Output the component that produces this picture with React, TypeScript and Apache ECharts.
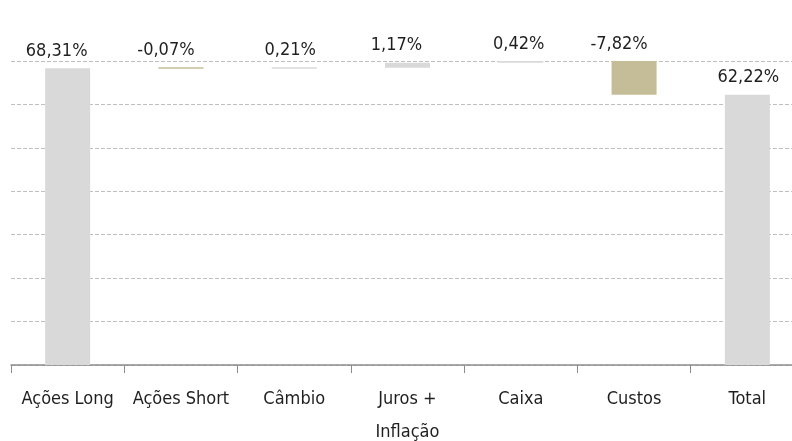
import React, { useEffect, useRef } from "react";
import * as echarts from "echarts";

const categories = ["Ações Long", "Ações Short", "Câmbio", "Juros +\nInflação", "Caixa", "Custos", "Total"];
const deltas = [68.31, -0.07, 0.21, 1.17, 0.42, -7.82, 62.22];
const isTotal = [true, false, false, false, false, false, true];
const yTicks = [0, 10, 20, 30, 40, 50, 60, 70];

// horizontal nudges of the value labels, as placed in the original
const labelShift = [-11, -15, -4, -11, -2, -15, 1];

const GRAY = "#d9d9d9";
const KHAKI = "#c4bd97";
const FONT = "'DejaVu Sans Condensed', 'Liberation Sans Narrow', sans-serif";

function fmt(v: number) {
  return v.toFixed(2).replace(".", ",") + "%";
}

export default function App() {
  const ref = useRef<HTMLDivElement>(null);
  useEffect(() => {
    if (!ref.current) return;
    const chart = echarts.init(ref.current, undefined, { renderer: "svg" });

    const base: number[] = [];
    const vis: any[] = [];
    let cum = 0;
    deltas.forEach((d, i) => {
      if (isTotal[i]) {
        base.push(0);
        vis.push({ value: d, itemStyle: { color: GRAY }, label: { offset: [labelShift[i], 0] } });
        cum = d;
      } else if (d >= 0) {
        base.push(cum);
        vis.push({ value: d, itemStyle: { color: GRAY }, label: { offset: [labelShift[i], 0] } });
        cum += d;
      } else {
        base.push(cum + d);
        vis.push({ value: -d, itemStyle: { color: KHAKI }, label: { offset: [labelShift[i], 0] } });
        cum += d;
      }
    });

    chart.setOption({
      animation: false,
      grid: { left: 11, width: 793, top: 61, bottom: 76, containLabel: false, outerBoundsMode: "none" },
      xAxis: {
        type: "category",
        data: categories,
        axisLine: { show: true, lineStyle: { color: "#8c8c8c", width: 1.5 } },
        axisTick: { show: true, length: 8, lineStyle: { color: "#8c8c8c" }, alignWithLabel: false },
        axisLabel: {
          interval: 0,
          margin: 16,
          color: "#1f1f1f",
          fontFamily: FONT,
          fontSize: 18,
          lineHeight: 33,
        },
      },
      yAxis: {
        type: "value",
        min: yTicks[0],
        max: yTicks[yTicks.length - 1],
        interval: yTicks[1] - yTicks[0],
        axisLabel: { show: false },
        axisLine: { show: false },
        axisTick: { show: false },
        splitLine: { show: true, lineStyle: { color: "#bfbfbf", type: [4, 2], width: 1 } },
      },
      series: [
        {
          type: "bar",
          stack: "w",
          data: base,
          barWidth: 45,
          itemStyle: { color: "transparent" },
          emphasis: { disabled: true },
          silent: true,
        },
        {
          type: "bar",
          stack: "w",
          data: vis,
          barWidth: 45,
          barMinHeight: 1.5,
          label: {
            show: true,
            position: "top",
            distance: 10,
            color: "#1f1f1f",
            fontFamily: FONT,
            fontSize: 18,
            formatter: (p: any) => fmt(deltas[p.dataIndex]),
          },
        },
      ],
    });
    return () => chart.dispose();
  }, []);
  return (
    <div style={{ position: "fixed", left: 0, top: 0, width: 792, height: 441, overflow: "hidden" }}>
      <div ref={ref} style={{ width: 804, height: 441 }} />
    </div>
  );
}
